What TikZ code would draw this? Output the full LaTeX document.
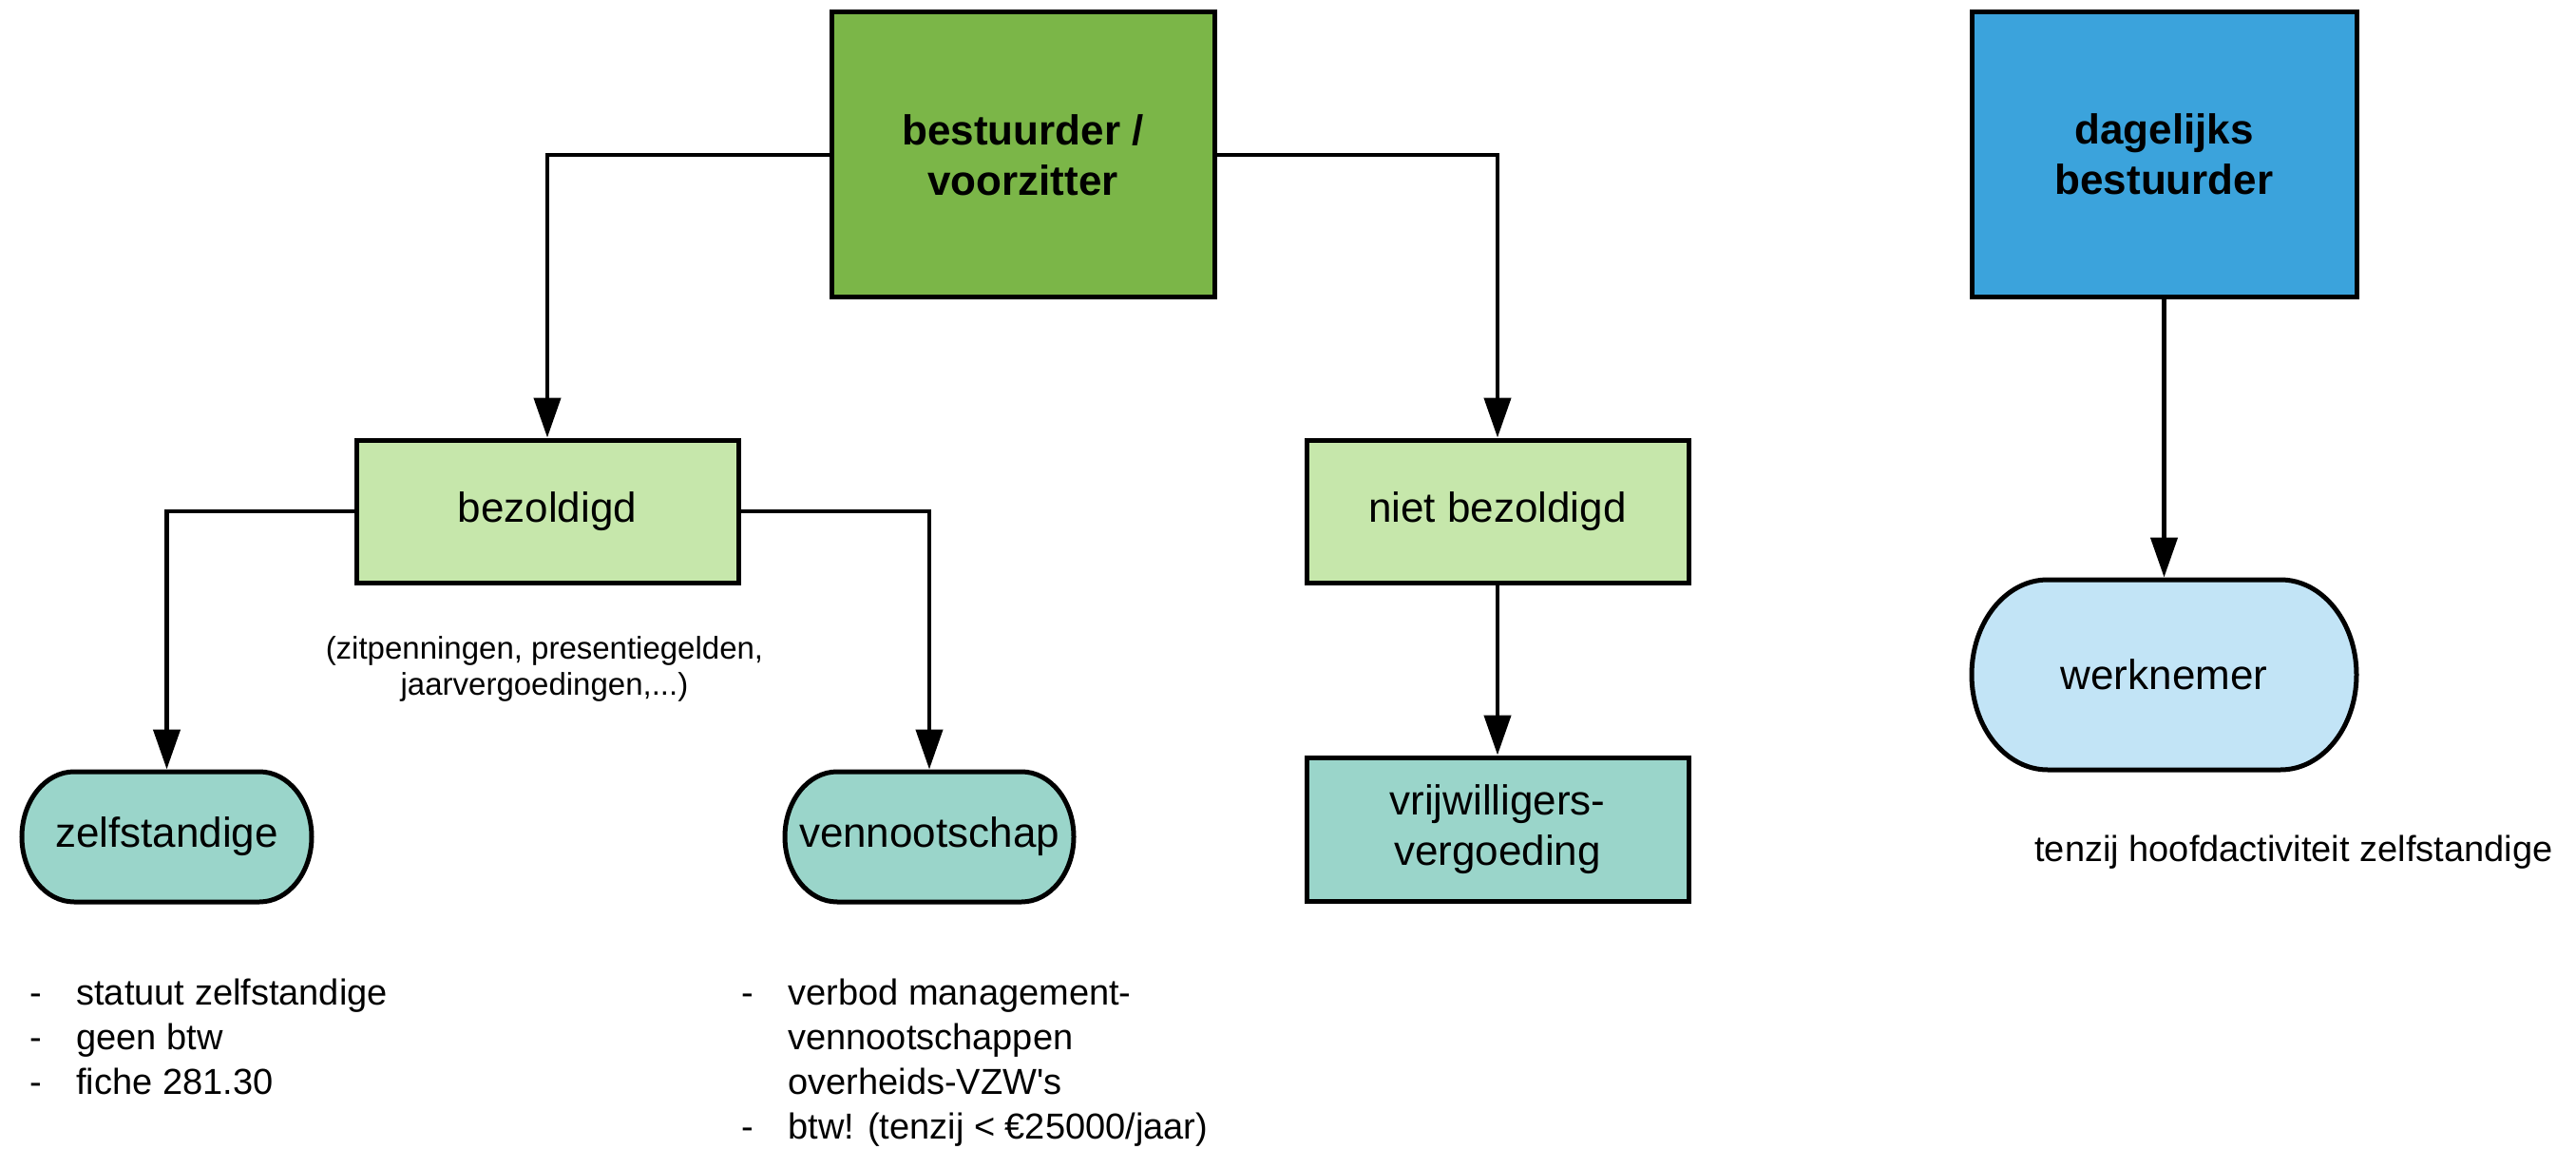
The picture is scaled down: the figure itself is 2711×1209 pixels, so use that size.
\documentclass[tikz,border=0pt]{standalone}
\usepackage{fontspec}
\setmainfont{Liberation Sans}
\usetikzlibrary{arrows.meta,calc,backgrounds}
\definecolor{topgreen}{RGB}{123,182,72}
\definecolor{lightgreen}{RGB}{198,231,171}
\definecolor{tealfill}{RGB}{154,213,202}
\definecolor{bossblue}{RGB}{59,163,220}
\definecolor{lightblue}{RGB}{194,228,246}
\newcommand\stadiumbg[4]{% name, fill, rx, ry
  \begin{scope}[on background layer]
    \path[draw=black, line width=2.5pt, fill=#2]
      ($(#1.north west)+(#3,0pt)$) -- ($(#1.north east)+(-#3,0pt)$)
      arc[start angle=90, end angle=-90, x radius=#3, y radius=#4]
      -- ($(#1.south west)+(#3,0pt)$)
      arc[start angle=270, end angle=90, x radius=#3, y radius=#4] -- cycle;
  \end{scope}}
\tikzset{
  mainfont/.style={font=\fontsize{22}{26.5}\selectfont},
  box/.style={draw=black, line width=2.5pt, inner sep=0pt, align=center, mainfont},
  smallbox/.style={box, minimum width=201pt, minimum height=75pt},
  bigbox/.style={box, minimum width=201.5pt, minimum height=150pt, font=\fontsize{22}{26.5}\selectfont\bfseries},
  stadiumtext/.style={inner sep=0pt, outer sep=0pt, align=center, mainfont},
  conn/.style={line width=2.2pt, -{Triangle[length=21pt,width=14pt]}},
  connst/.style={conn, shorten >=1.25pt},
  listtext/.style={inner sep=0pt, anchor=base west, font=\fontsize{19}{23.5}\selectfont},
}
\begin{document}
\begin{tikzpicture}[x=0.5pt, y=-0.5pt]
\useasboundingbox (0,0) rectangle (2711,1209);
% boxes
\node[bigbox, fill=topgreen] (top) at (1076.5,163) {bestuurder /\\voorzitter};
\node[bigbox, fill=bossblue, minimum width=202.5pt] (boss) at (2277.5,162.5) {dagelijks\\bestuurder};
\node[smallbox, fill=lightgreen] (bez) at (576,538) {bezoldigd};
\node[smallbox, fill=lightgreen] (niet) at (1576,538) {niet bezoldigd};
\node[smallbox, fill=tealfill, minimum height=75.5pt] (vrij) at (1576,872.5) {vrijwilligers-\\vergoeding};
% stadium shapes
\node[stadiumtext, minimum width=152.5pt, minimum height=68.5pt] (zelf) at (175.5,880.5) {zelfstandige};
\stadiumbg{zelf}{tealfill}{27.5pt}{34.25pt}
\node[stadiumtext, minimum width=152pt, minimum height=68.5pt] (venn) at (978,880.5) {vennootschap};
\stadiumbg{venn}{tealfill}{27.5pt}{34.25pt}
\node[stadiumtext, minimum width=202.5pt, minimum height=100pt] (werk) at (2277.5,710) {werknemer};
\stadiumbg{werk}{lightblue}{40pt}{50pt}
% connectors
\draw[conn] (top.west) -| (bez.north);
\draw[conn] (top.east) -| (niet.north);
\draw[connst] (bez.west) -| (zelf.north);
\draw[connst] (bez.east) -| (venn.north);
\draw[conn] (niet.south) -- (vrij.north);
\draw[connst] (boss.south) -- (werk.north);
% annotations
\node[inner sep=0pt, align=center, font=\fontsize{16.5}{19}\selectfont] (beznote) at (573,704)
  {(zitpenningen, presentiegelden,\\jaarvergoedingen,...)};
\node[listtext] (zlist) at (31,1057)
  {\begin{tabular}[t]{@{}p{24.5pt}@{}l@{}}
   -& statuut zelfstandige\\
   -& geen btw\\
   -& fiche 281.30
   \end{tabular}};
\node[listtext] (vlist) at (780,1057)
  {\begin{tabular}[t]{@{}p{24.5pt}@{}l@{}}
   -& verbod management-\\
    & vennootschappen\\
    & overheids-VZW\textquotesingle s\\
   -& btw! (tenzij < €25000/jaar)
   \end{tabular}};
\node[listtext] (wnote) at (2141,906) {tenzij hoofdactiviteit zelfstandige};
\end{tikzpicture}
\end{document}
